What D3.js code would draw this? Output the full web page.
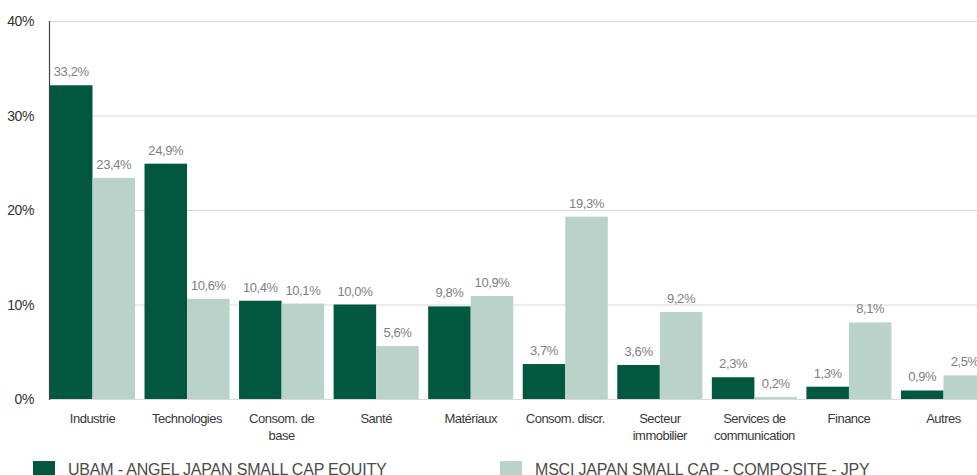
<!DOCTYPE html>
<html>
<head>
<meta charset="utf-8">
<script src="https://cdn.jsdelivr.net/npm/d3@7"></script>
<style>
  body { margin: 0; background: #fff; }
  svg { display: block; font-family: "Liberation Sans", Arial, sans-serif; }
</style>
</head>
<body>
<svg id="chart" width="977" height="475"></svg>
<script>
"use strict";

const categories = ["Industrie", "Technologies", "Consom. de base", "Santé", "Matériaux",
  "Consom. discr.", "Secteur immobilier", "Services de communication", "Finance", "Autres"];
// label lines under each group
const catLines = [["Industrie"], ["Technologies"], ["Consom. de", "base"], ["Santé"], ["Matériaux"],
  ["Consom. discr."], ["Secteur", "immobilier"], ["Services de", "communication"], ["Finance"], ["Autres"]];
const fundValues = [33.2, 24.9, 10.4, 10.0, 9.8, 3.7, 3.6, 2.3, 1.3, 0.9];
const indexValues = [23.4, 10.6, 10.1, 5.6, 10.9, 19.3, 9.2, 0.2, 8.1, 2.5];
const seriesNames = ["UBAM - ANGEL JAPAN SMALL CAP EQUITY", "MSCI JAPAN SMALL CAP - COMPOSITE - JPY"];
const yTicks = [0, 10, 20, 30, 40];

const colors = ["#02573f", "#b9d3ca"];
const svg = d3.select("#chart");

const plotLeft = 49, plotTop = 21, plotBottom = 399;

const yScale = d3.scaleLinear().domain([0, 40]).range([plotBottom, plotTop]);
const xScale = d3.scaleBand().domain(categories).range([plotLeft, 987])
  .paddingInner(0.1).paddingOuter(0.01);
const xSub = d3.scaleBand().domain([0, 1]).range([0, xScale.bandwidth()]);

// grid
svg.append("g")
  .selectAll("line")
  .data(yTicks)
  .enter().append("line")
  .attr("x1", plotLeft).attr("x2", 977)
  .attr("y1", d => yScale(d) + 0.5).attr("y2", d => yScale(d) + 0.5)
  .attr("stroke", "#d9d9d9").attr("stroke-width", 1);

// y tick labels
svg.append("g")
  .selectAll("text")
  .data(yTicks)
  .enter().append("text")
  .attr("x", 34)
  .attr("y", d => yScale(d) + 5)
  .attr("text-anchor", "end")
  .attr("font-size", 14)
  .attr("letter-spacing", "-0.4")
  .attr("fill", "#333")
  .text(d => d + "%");

const data = categories.map((c, i) => ({ cat: c, vals: [fundValues[i], indexValues[i]] }));

const groups = svg.append("g").selectAll("g")
  .data(data)
  .enter().append("g")
  .attr("transform", d => `translate(${xScale(d.cat)},0)`);

groups.selectAll("rect")
  .data(d => d.vals.map((v, k) => ({ v, k })))
  .enter().append("rect")
  .attr("x", d => xSub(d.k))
  .attr("y", d => yScale(d.v))
  .attr("width", xSub.bandwidth())
  .attr("height", d => plotBottom - yScale(d.v))
  .attr("fill", d => colors[d.k]);

groups.selectAll("text.val")
  .data(d => d.vals.map((v, k) => ({ v, k })))
  .enter().append("text")
  .attr("class", "val")
  .attr("x", d => xSub(d.k) + xSub.bandwidth() / 2)
  .attr("y", d => yScale(d.v) - 9)
  .attr("text-anchor", "middle")
  .attr("font-size", 13)
  .attr("letter-spacing", "-0.4")
  .attr("fill", "#808080")
  .text(d => d.v.toFixed(1).replace(".", ",") + "%");

// y axis line
svg.append("line")
  .attr("x1", plotLeft + 0.5).attr("x2", plotLeft + 0.5)
  .attr("y1", plotTop).attr("y2", plotBottom + 1)
  .attr("stroke", "#444").attr("stroke-width", 1.2);

// category labels
groups.each(function (d, i) {
  const t = d3.select(this).append("text")
    .attr("text-anchor", "middle")
    .attr("font-size", 13)
    .attr("letter-spacing", "-0.5")
    .attr("fill", "#3a3a3a");
  catLines[i].forEach((line, j) => {
    t.append("tspan")
      .attr("x", xScale.bandwidth() / 2)
      .attr("y", 423 + j * 17)
      .text(line);
  });
});

// legend
const legendX = [33, 500];
const legend = svg.append("g").selectAll("g")
  .data(seriesNames)
  .enter().append("g")
  .attr("transform", (d, i) => `translate(${legendX[i]},461)`);
legend.append("rect")
  .attr("width", 22).attr("height", 14)
  .attr("fill", (d, i) => colors[i]);
legend.append("text")
  .attr("x", 35).attr("y", 14)
  .attr("font-size", 16)
  .attr("letter-spacing", "-0.2")
  .attr("fill", "#4a4a4a")
  .text(d => d);
</script>
</body>
</html>
